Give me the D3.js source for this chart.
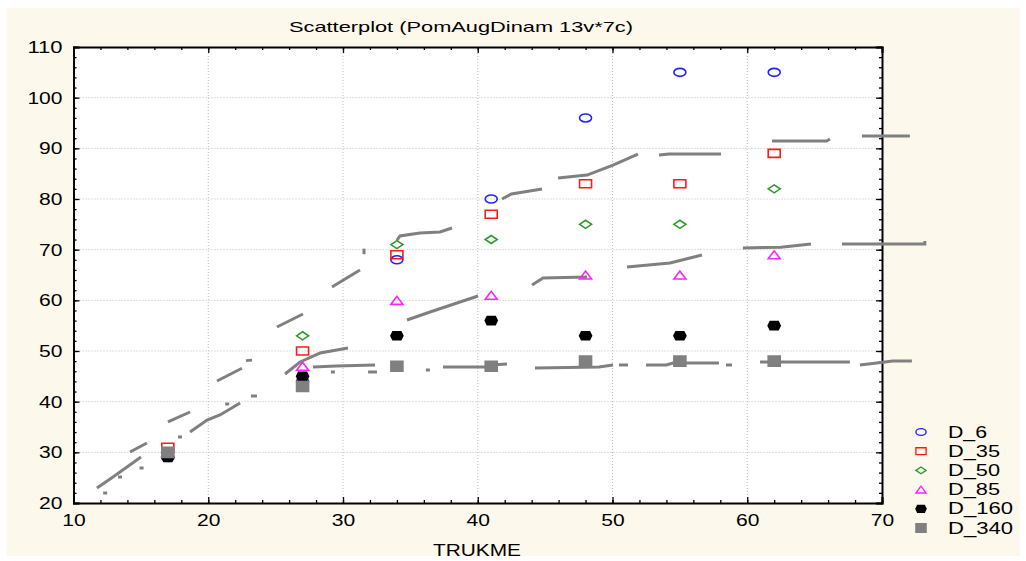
<!DOCTYPE html>
<html>
<head>
<meta charset="utf-8">
<script src="https://cdn.jsdelivr.net/npm/d3@7"></script>
<style>
  body { margin: 0; background: #ffffff; }
  svg { display: block; }
  text { font-family: "Liberation Sans", Arial, sans-serif; fill: #000; }
</style>
</head>
<body>
<svg id="chart" width="1026" height="561"></svg>
<script>
// x positions of the observations (TRUKME)
const trukme = [17, 27, 34, 41, 48, 55, 62];

// one array per series, same order as trukme
const d6   = [29, 44, 68, 80, 96, 105, 105];
const d35  = [31, 50, 69, 77, 83, 83, 89];
const d50  = [30, 53, 71, 72, 75, 75, 82];
const d85  = [30, 47, 60, 61, 65, 65, 69];
const d160 = [29, 45, 53, 56, 53, 53, 55];
const d340 = [30, 43, 47, 47, 48, 48, 48];

const seriesNames = ["D_6", "D_35", "D_50", "D_85", "D_160", "D_340"];

const curveUpper = [
    [[14.19, 30.07], [15.45, 31.84]],
    [[17.01, 35.99], [18.65, 37.96]],
    [[20.65, 44.08], [22.5, 46.6]],
    [[22.8, 48.1], [23.25, 48.2]],
    [[25.10, 54.74], [27.03, 57.30]],
    [[29.18, 62.63], [31.26, 65.99]],
    [[31.56, 69.1], [31.56, 70.2]],
    [[34.01, 71.9], [34.23, 72.7], [35.7, 73.3], [37.2, 73.5], [38.09, 74.28]],
    [[41.80, 80.00], [42.5, 81.0], [44.77, 81.97]],
    [[45.96, 84.14], [48.11, 84.73], [50.04, 86.7], [51.89, 88.88]],
    [[53.45, 88.68], [54.2, 88.88], [58.05, 88.88]],
    [[61.84, 91.45], [65.9, 91.45], [66.14, 91.84]],
    [[68.51, 92.43], [72.07, 92.43]]
];

const curveMiddle = [
    [[11.74, 22.96], [12.93, 25.13], [15.01, 29.08]],
    [[18.65, 34.01], [19.91, 36.38], [20.87, 37.37], [22.36, 39.74]],
    [[25.70, 45.46], [26.81, 47.83], [28.30, 49.6], [30.37, 50.59]],
    [[34.75, 56.12], [36.46, 57.7], [38.46, 59.47], [40.02, 60.86]],
    [[44.03, 63.03], [44.84, 64.41], [48.11, 64.61]],
    [[51.08, 66.58], [54.27, 67.37], [56.64, 68.95]],
    [[59.68, 70.33], [62.5, 70.5], [64.73, 71.12]],
    [[67.03, 71.12], [73.18, 71.12], [73.18, 71.7]]
];

const curveLower = [
    [[12.2, 21.97], [12.5, 21.97]],
    [[13.3, 25.13], [13.6, 25.13]],
    [[14.9, 26.91], [15.2, 26.91]],
    [[17.75, 33.03], [18.05, 33.03]],
    [[21.25, 39.54], [21.55, 39.54]],
    [[23.17, 41.12], [23.62, 41.12]],
    [[27.77, 46.84], [29.5, 47.04], [32.38, 47.24]],
    [[29.1, 45.86], [29.4, 45.86]],
    [[31.86, 45.86], [32.52, 45.86]],
    [[36.15, 46.25], [36.45, 46.25]],
    [[37.42, 46.84], [40.5, 46.84], [41.0, 47.24], [42.17, 47.43]],
    [[44.25, 46.64], [49.0, 46.84], [50.04, 47.24]],
    [[50.48, 47.24], [51.15, 47.24]],
    [[52.49, 47.24], [54.0, 47.24], [54.5, 47.63], [57.9, 47.63]],
    [[58.42, 47.24], [58.87, 47.24]],
    [[60.95, 47.83], [67.62, 47.83]],
    [[68.36, 47.24], [69.62, 47.63], [70.8, 48.03], [72.22, 48.03]]
];

const xTicks = [10, 20, 30, 40, 50, 60, 70];
const yTicks = [20, 30, 40, 50, 60, 70, 80, 90, 100, 110];
const xMinor = d3.range(10, 70.1, 2);
const yMinor = d3.range(20, 110.1, 2);

const svg = d3.select("#chart");
const plotL = 73.5, plotR = 882, plotT = 47, plotB = 503;

const x = d3.scaleLinear().domain([10, 70]).range([plotL, plotR]);
const y = d3.scaleLinear().domain([20, 110]).range([plotB, plotT]);

// cream panel and white plot area
svg.append("rect").attr("x", 7).attr("y", 8).attr("width", 1013).attr("height", 548)
    .attr("fill", "#fdf8ec");
svg.append("rect").attr("x", plotL).attr("y", plotT)
    .attr("width", plotR - plotL).attr("height", plotB - plotT).attr("fill", "#fff");

// dotted grid
const grid = svg.append("g").attr("stroke", "#bdbdbd").attr("stroke-dasharray", "1,2");
grid.selectAll("line.gx").data(xTicks.slice(1, -1)).join("line")
    .attr("x1", d => x(d)).attr("x2", d => x(d)).attr("y1", plotT).attr("y2", plotB);
grid.selectAll("line.gy").data(yTicks.slice(1, -1)).join("line")
    .attr("y1", d => y(d)).attr("y2", d => y(d)).attr("x1", plotL).attr("x2", plotR);

// axes, ticks pointing inward on all four sides
function axisPair(gen, ticks, minor, tr) {
    svg.append("g").attr("transform", tr).call(gen.tickValues(minor).tickSize(-3).tickFormat(""))
        .call(g => g.select(".domain").remove());
    return svg.append("g").attr("transform", tr)
        .call(gen.tickValues(ticks).tickSize(-6).tickFormat(d3.format("d")));
}
const ax = [
    axisPair(d3.axisBottom(x), xTicks, xMinor, `translate(0,${plotB})`),
    axisPair(d3.axisTop(x), xTicks, xMinor, `translate(0,${plotT})`),
    axisPair(d3.axisLeft(y), yTicks, yMinor, `translate(${plotL},0)`),
    axisPair(d3.axisRight(y), yTicks, yMinor, `translate(${plotR},0)`)
];
svg.selectAll(".tick line").attr("stroke", "#000").attr("stroke-width", 1.3);
ax.forEach(g => g.select(".domain").attr("stroke", "#000").attr("stroke-width", 2));
ax[1].selectAll("text").remove();
ax[3].selectAll("text").remove();

ax[0].selectAll("text")
    .attr("font-size", 16).attr("font-family", "Liberation Sans, Arial").attr("y", 0).attr("dy", 0)
    .attr("transform", "translate(0,23)")
    .attr("textLength", d => String(d).length * 11.7).attr("lengthAdjust", "spacingAndGlyphs");
ax[2].selectAll("text")
    .attr("font-size", 16).attr("font-family", "Liberation Sans, Arial").attr("x", -11).attr("dy", "0.35em")
    .attr("textLength", d => String(d).length * 11.7).attr("lengthAdjust", "spacingAndGlyphs");

// grey curves
const line = d3.line().x(d => x(d[0])).y(d => y(d[1]));
const curves = svg.append("g").attr("fill", "none").attr("stroke", "#808080").attr("stroke-width", 3);
[curveUpper, curveMiddle, curveLower].forEach(c => {
    curves.append("g").selectAll("path").data(c).join("path").attr("d", line);
});

// markers
function marker(kind, cx, cy) {
    switch (kind) {
        case "square": return `M${cx - 6},${cy - 4}h12v8h-12Z`;
        case "diamond": return `M${cx - 6},${cy}L${cx},${cy - 4}L${cx + 6},${cy}L${cx},${cy + 4}Z`;
        case "triangle": return `M${cx - 6},${cy + 4}L${cx},${cy - 4}L${cx + 6},${cy + 4}Z`;
        case "block": return `M${cx - 6},${cy - 5}h12v10h-12Z`;
        case "dot": return `M${cx - 6},${cy}L${cx - 4},${cy - 4}h8L${cx + 6},${cy}L${cx + 4},${cy + 4}h-8Z`;
        default: return `M${cx - 6},${cy}a6,4 0 1,0 12,0a6,4 0 1,0 -12,0Z`;
    }
}
const styles = [
    {kind: "circle", stroke: "#2222ff", fill: "none"},
    {kind: "square", stroke: "#ff1a1a", fill: "none"},
    {kind: "diamond", stroke: "#2e9a2e", fill: "none"},
    {kind: "triangle", stroke: "#ff22ff", fill: "none"},
    {kind: "dot", stroke: "#000", fill: "#000"},
    {kind: "block", stroke: "#808080", fill: "#808080"}
];
const allSeries = [d6, d35, d50, d85, d160, d340];

allSeries.forEach((vals, i) => {
    const s = styles[i];
    svg.append("g").selectAll("path").data(vals).join("path")
        .attr("d", (v, j) => marker(s.kind, x(trukme[j]), y(v)))
        .attr("fill", s.fill).attr("stroke", s.stroke).attr("stroke-width", 1.6);
});

// legend
const legend = svg.append("g").attr("transform", "translate(921,432)");
seriesNames.forEach((name, i) => {
    const s = styles[i];
    const row = legend.append("g").attr("transform", `translate(0,${i * 19.2})`);
    row.append("path").attr("d", marker(s.kind, 0, 0))
        .attr("transform", "scale(0.85)")
        .attr("fill", s.fill).attr("stroke", s.stroke).attr("stroke-width", 1.6);
    row.append("text").attr("x", 27).attr("dy", "0.35em").attr("font-size", 16)
        .attr("textLength", name.length * 13).attr("lengthAdjust", "spacingAndGlyphs")
        .text(name);
});

// titles
svg.append("text").attr("x", 461).attr("y", 32).attr("text-anchor", "middle").attr("font-size", 15)
    .attr("textLength", 344).attr("lengthAdjust", "spacingAndGlyphs")
    .text("Scatterplot (PomAugDinam 13v*7c)");
svg.append("text").attr("x", 477).attr("y", 556).attr("text-anchor", "middle").attr("font-size", 16)
    .attr("textLength", 88).attr("lengthAdjust", "spacingAndGlyphs")
    .text("TRUKME");
</script>
</body>
</html>
